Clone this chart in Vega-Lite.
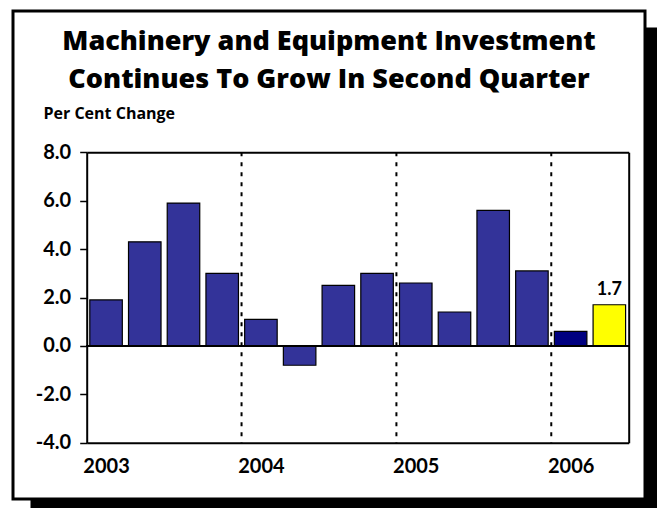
{
  "$schema": "https://vega.github.io/schema/vega-lite/v6.json",
  "width": 632,
  "height": 488,
  "autosize": {"type": "none"},
  "padding": {"left": 13, "top": 11, "right": 12, "bottom": 9},
  "background": "white",
  "config": {
    "view": {"stroke": "black", "strokeWidth": 3, "fill": "white"},
    "font": "Lato",
    "axis": {"labelFont": "Lato", "titleFont": "Lato", "labelColor": "black", "titleColor": "black"}
  },
  "title": {
    "text": ["Machinery and Equipment Investment", "Continues To Grow In Second Quarter"],
    "font": "Open Sans",
    "fontSize": 27,
    "fontWeight": 800,
    "color": "black",
    "lineHeight": 38,
    "anchor": "middle",
    "frame": "group",
    "offset": -83
  },
  "data": {
    "values": [
      {"q": "2003 Q1", "v": 1.9},
      {"q": "2003 Q2", "v": 4.3},
      {"q": "2003 Q3", "v": 5.9},
      {"q": "2003 Q4", "v": 3.0},
      {"q": "2004 Q1", "v": 1.1},
      {"q": "2004 Q2", "v": -0.8},
      {"q": "2004 Q3", "v": 2.5},
      {"q": "2004 Q4", "v": 3.0},
      {"q": "2005 Q1", "v": 2.6},
      {"q": "2005 Q2", "v": 1.4},
      {"q": "2005 Q3", "v": 5.6},
      {"q": "2005 Q4", "v": 3.1},
      {"q": "2006 Q1", "v": 0.6},
      {"q": "2006 Q2", "v": 1.7}
    ]
  },
  "layer": [
    {
      "mark": {"type": "point", "opacity": 0},
      "encoding": {
        "y": {
          "datum": 0.5, "type": "quantitative",
          "scale": {"domain": [0, 1], "range": [500, 16], "nice": false, "zero": false},
          "axis": {"orient": "right", "offset": 6, "domainWidth": 12, "domainColor": "black", "domainOpacity": 1, "ticks": false, "labels": false, "grid": false, "title": null}
        }
      }
    },
    {
      "mark": {"type": "point", "opacity": 0},
      "encoding": {
        "x": {
          "datum": 0.5, "type": "quantitative",
          "scale": {"domain": [0, 1], "range": [17, 650], "nice": false, "zero": false},
          "axis": {"orient": "bottom", "offset": 5, "domainWidth": 10, "domainColor": "black", "domainOpacity": 1, "ticks": false, "labels": false, "grid": false, "title": null}
        }
      }
    },
    {
      "mark": {"type": "point", "opacity": 0},
      "encoding": {
        "x": {
          "datum": 0.5, "type": "quantitative",
          "scale": {"domain": [0, 1], "range": [73.7, 615.7], "nice": false, "zero": false},
          "axis": {"orient": "top", "offset": -141.3, "domainWidth": 2, "domainColor": "black", "domainOpacity": 1, "ticks": false, "labels": false, "grid": false, "title": null}
        }
      }
    },
    {
      "mark": {"type": "point", "opacity": 0},
      "encoding": {
        "y": {
          "datum": 0.5, "type": "quantitative",
          "scale": {"domain": [0, 1], "range": [431.7, 141.3], "nice": false, "zero": false},
          "axis": {"orient": "right", "offset": -16.3, "domainWidth": 2, "domainColor": "black", "domainOpacity": 1, "ticks": false, "labels": false, "grid": false, "title": null}
        }
      }
    },
    {
      "mark": {"type": "point", "opacity": 0},
      "encoding": {
        "y": {
          "datum": 0, "type": "quantitative",
          "scale": {"domain": [-4, 8], "range": [431.7, 141.3], "nice": false, "zero": false},
          "axis": {
            "orient": "left", "offset": -73.7,
            "values": [-4, -2, 0, 2, 4, 6, 8],
            "labelExpr": "datum.value < 0 ? '-' + format(-datum.value, '.1f') : format(datum.value, '.1f')",
            "labelFontSize": 20, "labelFontWeight": "bold", "labelPadding": 9,
            "tickColor": "black", "tickSize": 7, "tickWidth": 1.5,
            "domainColor": "black", "domainWidth": 2, "domainOpacity": 1,
            "grid": false,
            "title": "Per Cent Change", "titleAngle": 0, "titleAlign": "left", "titleBaseline": "alphabetic",
            "titleFont": "Open Sans", "titleFontSize": 16, "titleFontWeight": "bold", "titleX": -43.7, "titleY": 107
          }
        }
      }
    },
    {
      "mark": {"type": "point", "opacity": 0},
      "encoding": {
        "x": {
          "field": "q", "type": "ordinal", "sort": null,
          "scale": {"range": [73.7, 615.7], "paddingInner": 0.16, "paddingOuter": 0.08},
          "axis": {
            "orient": "bottom", "offset": -56.3, "title": null,
            "labelExpr": "indexof(datum.label, 'Q1') >= 0 ? slice(datum.label, 0, 4) : ''",
            "labelFontSize": 20, "labelFontWeight": "bold", "labelAngle": 0,
            "labelPadding": 14, "labelOverlap": false,
            "ticks": false, "domainColor": "black", "domainWidth": 2, "domainOpacity": 1, "grid": false
          }
        }
      }
    },
    {
      "mark": {"type": "bar", "stroke": "black", "strokeWidth": 1.2},
      "encoding": {
        "x": {
          "field": "q", "type": "ordinal", "sort": null,
          "scale": {"range": [73.7, 615.7], "paddingInner": 0.16, "paddingOuter": 0.08},
          "axis": null
        },
        "y": {
          "field": "v", "type": "quantitative",
          "scale": {"domain": [-4, 8], "range": [431.7, 141.3], "nice": false, "zero": false},
          "axis": null
        },
        "fill": {
          "condition": [
            {"test": "datum.q === '2006 Q2'", "value": "#FFFF00"},
            {"test": "datum.q === '2006 Q1'", "value": "#000080"}
          ],
          "value": "#333399"
        }
      }
    },
    {
      "mark": {"type": "rule", "color": "black", "strokeWidth": 1.5},
      "encoding": {
        "x": {
          "datum": 0, "type": "quantitative",
          "scale": {"domain": [0, 1], "range": [73.7, 615.7], "nice": false, "zero": false},
          "axis": null
        },
        "x2": {"datum": 1},
        "y": {
          "datum": 0, "type": "quantitative",
          "scale": {"domain": [-4, 8], "range": [431.7, 141.3], "nice": false, "zero": false},
          "axis": null
        }
      }
    },
    {
      "transform": [{"filter": "indexof(datum.q, 'Q1') >= 0 && datum.q !== '2003 Q1'"}],
      "mark": {"type": "rule", "color": "black", "strokeWidth": 2, "strokeDash": [4, 6], "xOffset": -3.1},
      "encoding": {
        "x": {
          "field": "q", "type": "ordinal", "bandPosition": 0,
          "scale": {
            "domain": ["2003 Q1", "2003 Q2", "2003 Q3", "2003 Q4", "2004 Q1", "2004 Q2", "2004 Q3", "2004 Q4", "2005 Q1", "2005 Q2", "2005 Q3", "2005 Q4", "2006 Q1", "2006 Q2"],
            "range": [73.7, 615.7], "paddingInner": 0.16, "paddingOuter": 0.08
          },
          "axis": null
        },
        "y": {
          "datum": 8, "type": "quantitative",
          "scale": {"domain": [-4, 8], "range": [431.7, 141.3], "nice": false, "zero": false},
          "axis": null
        },
        "y2": {"datum": -4}
      }
    },
    {
      "transform": [{"filter": "datum.q === '2006 Q2'"}],
      "mark": {"type": "text", "baseline": "bottom", "dy": -6, "fontSize": 18, "fontWeight": "bold", "color": "black", "font": "Lato"},
      "encoding": {
        "x": {
          "field": "q", "type": "ordinal",
          "scale": {
            "domain": ["2003 Q1", "2003 Q2", "2003 Q3", "2003 Q4", "2004 Q1", "2004 Q2", "2004 Q3", "2004 Q4", "2005 Q1", "2005 Q2", "2005 Q3", "2005 Q4", "2006 Q1", "2006 Q2"],
            "range": [73.7, 615.7], "paddingInner": 0.16, "paddingOuter": 0.08
          },
          "axis": null
        },
        "y": {
          "field": "v", "type": "quantitative",
          "scale": {"domain": [-4, 8], "range": [431.7, 141.3], "nice": false, "zero": false},
          "axis": null
        },
        "text": {"field": "v", "type": "quantitative", "format": ".1f"}
      }
    }
  ],
  "resolve": {
    "scale": {"x": "independent", "y": "independent"},
    "axis": {"x": "independent", "y": "independent"}
  }
}
